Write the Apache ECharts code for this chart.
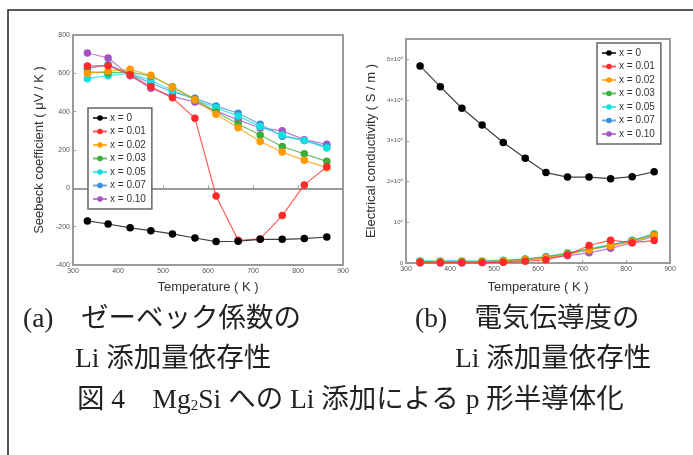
<!DOCTYPE html>
<html><head><meta charset="utf-8">
<script src="https://cdn.jsdelivr.net/npm/echarts@6/dist/echarts.min.js"></script>
<style>html,body{margin:0;padding:0;background:#fff}#c{width:693px;height:455px}</style>
</head><body><div id="c"></div>
<script>
const temps = [332, 378, 427, 473, 521, 571, 618, 667, 716, 765, 814, 864];
const seriesNames = ['x = 0', 'x = 0.01', 'x = 0.02', 'x = 0.03', 'x = 0.05', 'x = 0.07', 'x = 0.10'];
const seriesColors = ['#000000', '#ff2a2a', '#ff9a00', '#3aae3a', '#14dede', '#3b8ed8', '#a552c4'];

// Seebeck coefficient (μV/K)
const seebeck_0    = [-170, -186, -206, -221, -238, -259, -278, -276, -266, -266, -262, -254];
const seebeck_001  = [638, 640, 592, 530, 472, 366, -40, -271, -264, -142, 18, 113];
const seebeck_002  = [600, 612, 621, 590, 527, 462, 386, 316, 244, 189, 146, 108];
const seebeck_003  = [608, 602, 606, 585, 530, 465, 398, 336, 278, 218, 180, 141];
const seebeck_005  = [572, 588, 600, 563, 512, 462, 420, 378, 322, 278, 250, 210];
const seebeck_007  = [625, 645, 597, 548, 503, 470, 430, 392, 334, 272, 250, 218];
const seebeck_010  = [706, 680, 588, 522, 480, 450, 404, 357, 315, 300, 254, 230];

// Electrical conductivity (S/m)
const cond_0   = [484000, 433000, 380000, 339000, 296000, 257000, 222000, 211000, 211000, 207000, 212000, 224000];
const cond_001 = [2000, 1000, 1000, 1000, 2000, 4000, 8000, 20000, 43000, 56000, 50000, 55000];
const cond_002 = [3000, 3000, 3000, 3000, 5000, 8000, 13000, 22000, 32000, 42000, 53000, 68000];
const cond_003 = [3000, 3000, 3000, 3000, 5000, 9000, 14000, 23000, 33000, 43000, 54000, 70000];
const cond_005 = [5000, 5000, 5000, 5000, 7000, 10000, 16000, 25000, 35000, 45000, 55000, 72000];
const cond_007 = [4000, 4000, 4000, 4000, 6000, 9000, 15000, 24000, 34000, 44000, 56000, 70000];
const cond_010 = [0, 0, 0, 1000, 3000, 8000, 12000, 18000, 25000, 36000, 50000, 65000];

const seebeckAll = [seebeck_0, seebeck_001, seebeck_002, seebeck_003, seebeck_005, seebeck_007, seebeck_010];
const condAll = [cond_0, cond_001, cond_002, cond_003, cond_005, cond_007, cond_010];

const captionLines = [
  { text: '(a)　ゼーベック係数の', x: 23, y: 320 },
  { text: '(b)　電気伝導度の', x: 415, y: 320 },
  { text: 'Li 添加量依存性', x: 75, y: 360 },
  { text: 'Li 添加量依存性', x: 455, y: 360 },
  { text: '図 4　Mg{sub|2}Si への Li 添加による p 形半導体化', x: 77, y: 401 }
];

const sansFont = '"Liberation Sans", Arial, sans-serif';
const captionFont = '"Liberation Serif", "Noto Sans CJK JP", serif';

function mkSeries(arr, idx) {
  return arr.map((vals, i) => ({
    name: seriesNames[i],
    type: 'line',
    xAxisIndex: idx, yAxisIndex: idx,
    data: temps.map((t, k) => [t, vals[k]]),
    symbol: 'circle', symbolSize: 7.5,
    itemStyle: { color: seriesColors[i] },
    lineStyle: { color: seriesColors[i], width: 1.2, opacity: 0.75 },
    z: 10 - i,
    animation: false
  }));
}

const s1 = mkSeries(seebeckAll, 0);
s1[0].markLine = {
  silent: true, symbol: 'none', label: { show: false }, z: 1,
  lineStyle: { type: [2, 2], color: '#9a9a9a', width: 2 },
  data: [{ yAxis: 0 }]
};
const s2 = mkSeries(condAll, 1);

const axisCommon = {
  axisLine: { show: true, lineStyle: { color: '#9a9a9a', width: 2 } },
  axisTick: { show: true, inside: true, length: 3, lineStyle: { color: '#9a9a9a' } },
  splitLine: { show: false },
  axisLabel: { fontSize: 7, color: '#555', fontFamily: sansFont, margin: 3 },
  nameTextStyle: { fontSize: 13, color: '#333', fontFamily: sansFont }
};

function supFormat(v) {
  if (v === 0) return '0';
  const m = Math.round(v / 100000);
  return m === 1 ? '10⁵' : m + '×10⁵';
}

const legendCommon = {
  orient: 'vertical',
  data: seriesNames,
  itemWidth: 14, itemHeight: 7, itemGap: 3.5,
  padding: [5, 6, 5, 4],
  backgroundColor: '#fff',
  borderColor: '#666', borderWidth: 1.5,
  textStyle: { fontSize: 10, lineHeight: 9.3, color: '#333', fontFamily: sansFont, padding: [0, 0, 0, -2] },
  selectedMode: false,
  z: 50
};

const option = {
  animation: false,
  backgroundColor: '#fff',
  grid: [
    { left: 73, top: 35, width: 270, height: 230, show: true, borderColor: '#9a9a9a', borderWidth: 2, backgroundColor: '#fff' },
    { left: 406, top: 39, width: 264, height: 224, show: true, borderColor: '#9a9a9a', borderWidth: 2, backgroundColor: '#fff' }
  ],
  xAxis: [
    Object.assign({}, axisCommon, { gridIndex: 0, type: 'value', min: 300, max: 900, interval: 100,
      name: 'Temperature ( K )', nameLocation: 'middle', nameGap: 16 }),
    Object.assign({}, axisCommon, { gridIndex: 1, type: 'value', min: 300, max: 900, interval: 100,
      name: 'Temperature ( K )', nameLocation: 'middle', nameGap: 18 })
  ],
  yAxis: [
    Object.assign({}, axisCommon, { gridIndex: 0, type: 'value', min: -400, max: 800, interval: 200,
      name: 'Seebeck coefficient ( μV / K )', nameLocation: 'middle', nameGap: 27 }),
    Object.assign({}, axisCommon, { gridIndex: 1, type: 'value', min: 0, max: 550000, interval: 100000,
      name: 'Electrical conductivity ( S / m )', nameLocation: 'middle', nameGap: 28,
      axisLabel: Object.assign({}, axisCommon.axisLabel, { fontSize: 6, formatter: supFormat, showMaxLabel: false }) })
  ],
  legend: [
    Object.assign({}, legendCommon, { left: 88, top: 108 }),
    Object.assign({}, legendCommon, { left: 597, top: 43 })
  ],
  series: s1.concat(s2),
  graphic: [
    { type: 'rect', shape: { x: 8, y: 10, width: 720, height: 480 }, style: { fill: null, stroke: '#222', lineWidth: 1.5 }, z: 100, silent: true }
  ].concat(captionLines.map(c => ({
    type: 'text', x: c.x, y: c.y, silent: true,
    style: {
      text: c.text, font: '27.5px ' + captionFont, fill: '#222', verticalAlign: 'middle',
      rich: { sub: { fontSize: 15, fontFamily: captionFont, fill: '#222', padding: [10, 0, 0, 0] } }
    }
  })))
};

const chart = echarts.init(document.getElementById('c'), null, { renderer: 'canvas' });
chart.setOption(option);
</script>
</body></html>
